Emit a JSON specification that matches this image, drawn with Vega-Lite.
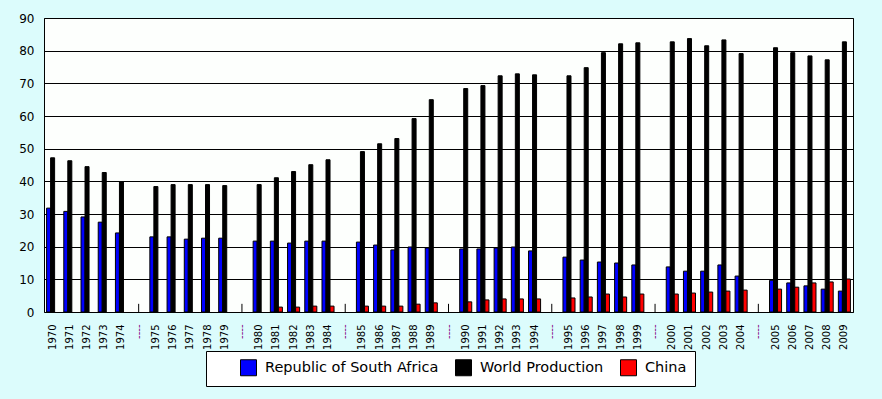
{
  "$schema": "https://vega.github.io/schema/vega-lite/v6.json",
  "width": 809,
  "height": 294,
  "autosize": {"type": "none"},
  "padding": {"left": 44, "top": 18, "right": 29, "bottom": 87},
  "background": "#dcfcfc",
  "config": {
    "view": {"fill": "#fdfffd", "stroke": "black", "strokeWidth": 1},
    "font": "DejaVu Sans"
  },
  "datasets": {
    "prod": [
      {"cat": "1970", "series": "Republic of South Africa", "value": 31.8},
      {"cat": "1970", "series": "World Production", "value": 47.2},
      {"cat": "1971", "series": "Republic of South Africa", "value": 30.8},
      {"cat": "1971", "series": "World Production", "value": 46.3},
      {"cat": "1972", "series": "Republic of South Africa", "value": 29.1},
      {"cat": "1972", "series": "World Production", "value": 44.5},
      {"cat": "1973", "series": "Republic of South Africa", "value": 27.5},
      {"cat": "1973", "series": "World Production", "value": 42.7},
      {"cat": "1974", "series": "Republic of South Africa", "value": 24.2},
      {"cat": "1974", "series": "World Production", "value": 39.9},
      {"cat": "s1", "series": "sep", "value": 2.5},
      {"cat": "1975", "series": "Republic of South Africa", "value": 23.0},
      {"cat": "1975", "series": "World Production", "value": 38.4},
      {"cat": "1976", "series": "Republic of South Africa", "value": 23.0},
      {"cat": "1976", "series": "World Production", "value": 39.0},
      {"cat": "1977", "series": "Republic of South Africa", "value": 22.3},
      {"cat": "1977", "series": "World Production", "value": 39.0},
      {"cat": "1978", "series": "Republic of South Africa", "value": 22.6},
      {"cat": "1978", "series": "World Production", "value": 39.0},
      {"cat": "1979", "series": "Republic of South Africa", "value": 22.6},
      {"cat": "1979", "series": "World Production", "value": 38.7},
      {"cat": "s2", "series": "sep", "value": 2.5},
      {"cat": "1980", "series": "Republic of South Africa", "value": 21.7},
      {"cat": "1980", "series": "World Production", "value": 39.0},
      {"cat": "1981", "series": "Republic of South Africa", "value": 21.7},
      {"cat": "1981", "series": "World Production", "value": 41.1},
      {"cat": "1981", "series": "China", "value": 1.5},
      {"cat": "1982", "series": "Republic of South Africa", "value": 21.1},
      {"cat": "1982", "series": "World Production", "value": 43.0},
      {"cat": "1982", "series": "China", "value": 1.5},
      {"cat": "1983", "series": "Republic of South Africa", "value": 21.7},
      {"cat": "1983", "series": "World Production", "value": 45.1},
      {"cat": "1983", "series": "China", "value": 1.8},
      {"cat": "1984", "series": "Republic of South Africa", "value": 21.7},
      {"cat": "1984", "series": "World Production", "value": 46.6},
      {"cat": "1984", "series": "China", "value": 1.8},
      {"cat": "s3", "series": "sep", "value": 2.5},
      {"cat": "1985", "series": "Republic of South Africa", "value": 21.4},
      {"cat": "1985", "series": "World Production", "value": 49.1},
      {"cat": "1985", "series": "China", "value": 1.8},
      {"cat": "1986", "series": "Republic of South Africa", "value": 20.5},
      {"cat": "1986", "series": "World Production", "value": 51.5},
      {"cat": "1986", "series": "China", "value": 1.8},
      {"cat": "1987", "series": "Republic of South Africa", "value": 19.0},
      {"cat": "1987", "series": "World Production", "value": 53.1},
      {"cat": "1987", "series": "China", "value": 1.8},
      {"cat": "1988", "series": "Republic of South Africa", "value": 19.9},
      {"cat": "1988", "series": "World Production", "value": 59.2},
      {"cat": "1988", "series": "China", "value": 2.4},
      {"cat": "1989", "series": "Republic of South Africa", "value": 19.6},
      {"cat": "1989", "series": "World Production", "value": 65.0},
      {"cat": "1989", "series": "China", "value": 2.8},
      {"cat": "s4", "series": "sep", "value": 2.5},
      {"cat": "1990", "series": "Republic of South Africa", "value": 19.3},
      {"cat": "1990", "series": "World Production", "value": 68.4},
      {"cat": "1990", "series": "China", "value": 3.1},
      {"cat": "1991", "series": "Republic of South Africa", "value": 19.3},
      {"cat": "1991", "series": "World Production", "value": 69.3},
      {"cat": "1991", "series": "China", "value": 3.7},
      {"cat": "1992", "series": "Republic of South Africa", "value": 19.6},
      {"cat": "1992", "series": "World Production", "value": 72.3},
      {"cat": "1992", "series": "China", "value": 4.0},
      {"cat": "1993", "series": "Republic of South Africa", "value": 19.9},
      {"cat": "1993", "series": "World Production", "value": 72.9},
      {"cat": "1993", "series": "China", "value": 4.0},
      {"cat": "1994", "series": "Republic of South Africa", "value": 18.7},
      {"cat": "1994", "series": "World Production", "value": 72.6},
      {"cat": "1994", "series": "China", "value": 4.0},
      {"cat": "s5", "series": "sep", "value": 2.5},
      {"cat": "1995", "series": "Republic of South Africa", "value": 16.8},
      {"cat": "1995", "series": "World Production", "value": 72.3},
      {"cat": "1995", "series": "China", "value": 4.3},
      {"cat": "1996", "series": "Republic of South Africa", "value": 15.9},
      {"cat": "1996", "series": "World Production", "value": 74.8},
      {"cat": "1996", "series": "China", "value": 4.6},
      {"cat": "1997", "series": "Republic of South Africa", "value": 15.3},
      {"cat": "1997", "series": "World Production", "value": 79.4},
      {"cat": "1997", "series": "China", "value": 5.5},
      {"cat": "1998", "series": "Republic of South Africa", "value": 15.0},
      {"cat": "1998", "series": "World Production", "value": 82.1},
      {"cat": "1998", "series": "China", "value": 4.6},
      {"cat": "1999", "series": "Republic of South Africa", "value": 14.4},
      {"cat": "1999", "series": "World Production", "value": 82.4},
      {"cat": "1999", "series": "China", "value": 5.5},
      {"cat": "s6", "series": "sep", "value": 2.5},
      {"cat": "2000", "series": "Republic of South Africa", "value": 13.8},
      {"cat": "2000", "series": "World Production", "value": 82.7},
      {"cat": "2000", "series": "China", "value": 5.5},
      {"cat": "2001", "series": "Republic of South Africa", "value": 12.5},
      {"cat": "2001", "series": "World Production", "value": 83.7},
      {"cat": "2001", "series": "China", "value": 5.8},
      {"cat": "2002", "series": "Republic of South Africa", "value": 12.5},
      {"cat": "2002", "series": "World Production", "value": 81.5},
      {"cat": "2002", "series": "China", "value": 6.1},
      {"cat": "2003", "series": "Republic of South Africa", "value": 14.4},
      {"cat": "2003", "series": "World Production", "value": 83.3},
      {"cat": "2003", "series": "China", "value": 6.4},
      {"cat": "2004", "series": "Republic of South Africa", "value": 11.0},
      {"cat": "2004", "series": "World Production", "value": 79.1},
      {"cat": "2004", "series": "China", "value": 6.7},
      {"cat": "s7", "series": "sep", "value": 2.5},
      {"cat": "2005", "series": "Republic of South Africa", "value": 9.7},
      {"cat": "2005", "series": "World Production", "value": 80.9},
      {"cat": "2005", "series": "China", "value": 7.0},
      {"cat": "2006", "series": "Republic of South Africa", "value": 8.9},
      {"cat": "2006", "series": "World Production", "value": 79.4},
      {"cat": "2006", "series": "China", "value": 7.6},
      {"cat": "2007", "series": "Republic of South Africa", "value": 8.0},
      {"cat": "2007", "series": "World Production", "value": 78.4},
      {"cat": "2007", "series": "China", "value": 8.9},
      {"cat": "2008", "series": "Republic of South Africa", "value": 7.0},
      {"cat": "2008", "series": "World Production", "value": 77.2},
      {"cat": "2008", "series": "China", "value": 9.2},
      {"cat": "2009", "series": "Republic of South Africa", "value": 6.4},
      {"cat": "2009", "series": "World Production", "value": 82.7},
      {"cat": "2009", "series": "China", "value": 10.1}
    ]
  },
  "data": {"name": "prod"},
  "encoding": {
    "x": {
      "field": "cat",
      "type": "nominal",
      "scale": {
        "domain": ["1970","1971","1972","1973","1974","s1","1975","1976","1977","1978","1979","s2","1980","1981","1982","1983","1984","s3","1985","1986","1987","1988","1989","s4","1990","1991","1992","1993","1994","s5","1995","1996","1997","1998","1999","s6","2000","2001","2002","2003","2004","s7","2005","2006","2007","2008","2009"],
        "paddingInner": 0.3,
        "paddingOuter": 0.15
      },
      "axis": {
        "title": null,
        "labelAngle": 270,
        "labelFontSize": 10,
        "labelPadding": 12,
        "labelColor": {"condition": {"test": "indexof(datum.value, 's') == 0", "value": "#800080"}, "value": "black"},
        "labelExpr": "indexof(datum.value, 's') == 0 ? '----' : datum.value",
        "ticks": false,
        "domain": false,
        "grid": false
      }
    },
    "y": {
      "field": "value",
      "type": "quantitative",
      "scale": {"domain": [0, 90], "nice": false},
      "axis": {
        "title": null,
        "values": [0, 10, 20, 30, 40, 50, 60, 70, 80, 90],
        "labelFontSize": 12,
        "labelColor": "black",
        "labelPadding": 10,
        "ticks": false,
        "domain": false,
        "grid": true,
        "gridColor": "black",
        "gridOpacity": 1,
        "gridWidth": 1
      }
    }
  },
  "layer": [
    {
      "transform": [{"filter": "datum.series != 'sep'"}],
      "mark": {"type": "bar", "stroke": "black", "strokeWidth": 1},
      "encoding": {
        "xOffset": {
          "field": "series",
          "type": "nominal",
          "scale": {"domain": ["Republic of South Africa", "World Production", "China"], "paddingInner": 0, "paddingOuter": 0}
        },
        "color": {
          "field": "series",
          "type": "nominal",
          "scale": {"domain": ["Republic of South Africa", "World Production", "China"], "range": ["#0000ff", "#000000", "#ff0000"]},
          "legend": {
            "orient": "none",
            "legendX": 162,
            "legendY": 333,
            "direction": "horizontal",
            "title": " ",
            "titleOrient": "left",
            "titleFontSize": 1,
            "titlePadding": 26,
            "padding": 8,
            "fillColor": "white",
            "strokeColor": "black",
            "symbolType": "square",
            "symbolSize": 256,
            "symbolStrokeColor": "black",
            "symbolStrokeWidth": 1,
            "symbolOpacity": 1,
            "labelFontSize": 14.5,
            "labelColor": "black",
            "labelOffset": 8,
            "labelLimit": 300,
            "columnPadding": 14,
            "labelExpr": "datum.label == 'China' ? 'China\u00a0\u00a0\u00a0\u00a0\u00a0\u00a0' : datum.label"
          }
        }
      }
    },
    {
      "transform": [{"filter": "datum.series == 'sep'"}],
      "mark": {"type": "rule", "color": "black", "strokeWidth": 1},
      "encoding": {
        "y2": {"datum": 0}
      }
    }
  ]
}
